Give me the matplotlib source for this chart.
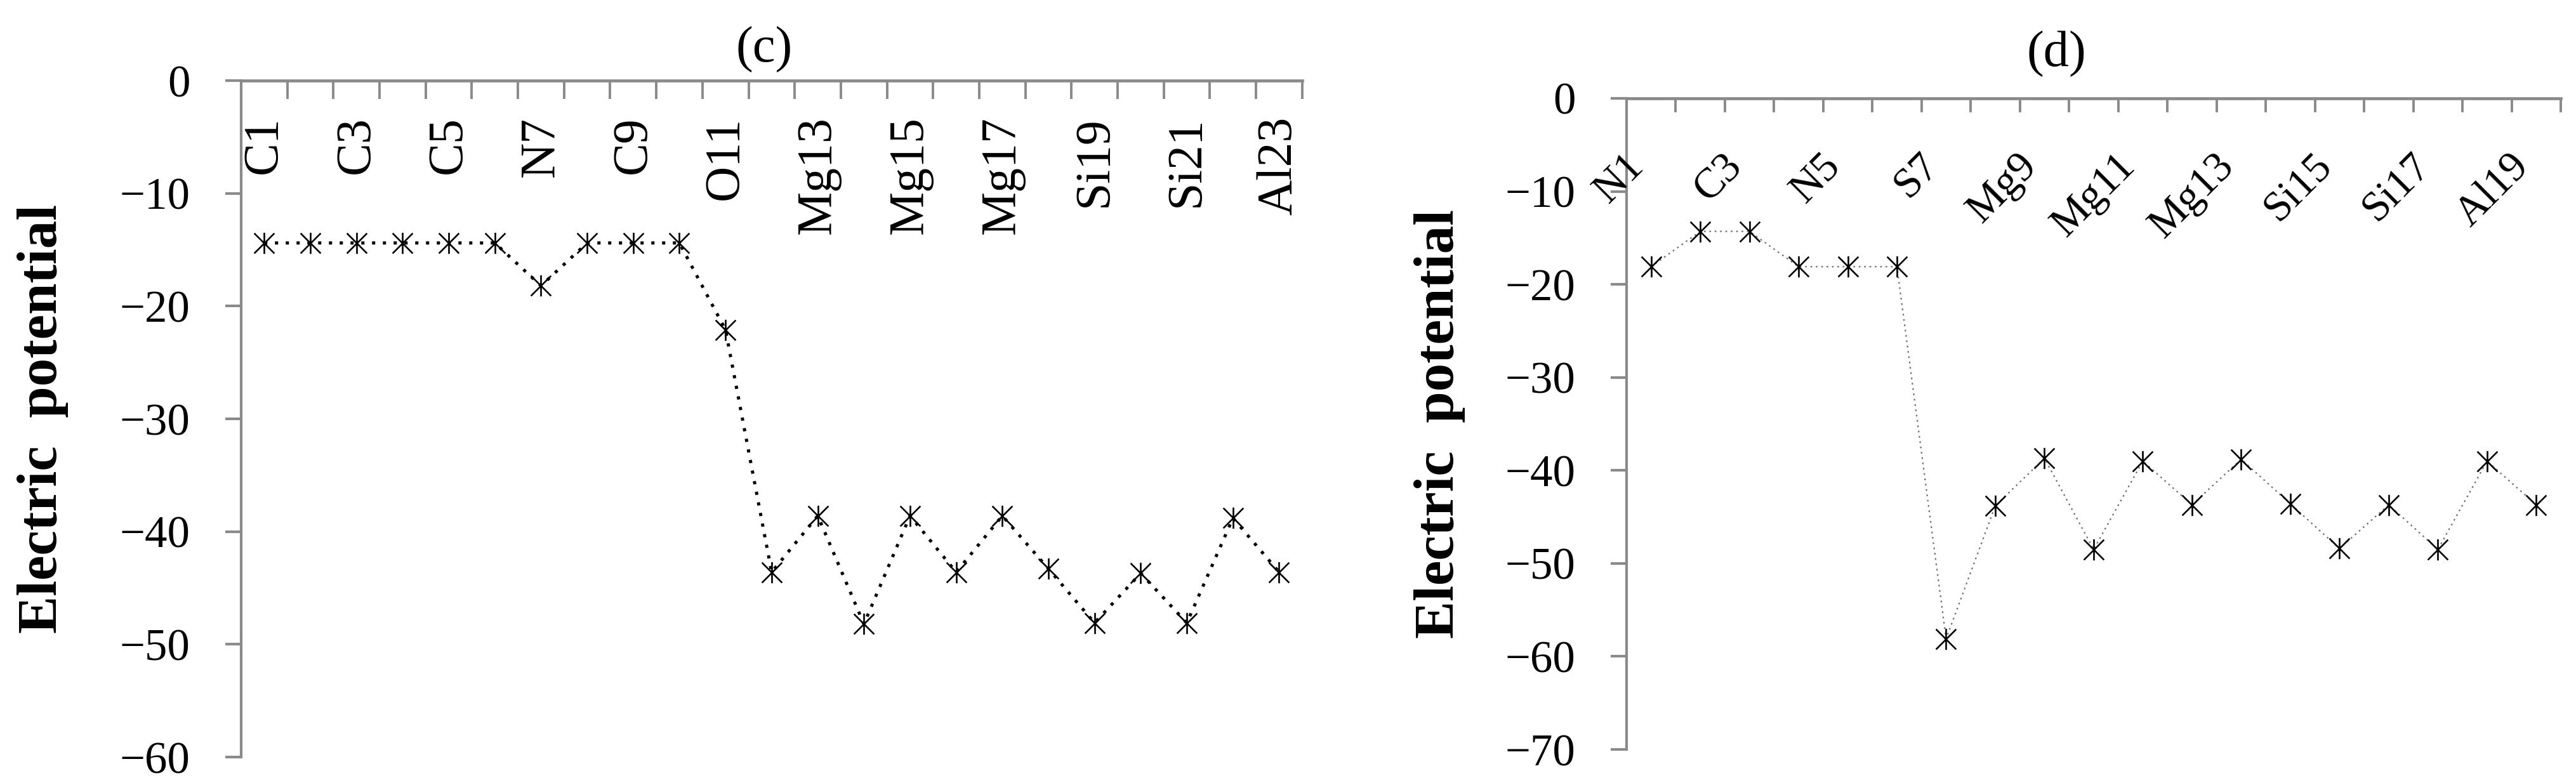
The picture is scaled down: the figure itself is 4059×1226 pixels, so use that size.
import numpy as np
import matplotlib
matplotlib.use('Agg')
import matplotlib.pyplot as plt
from matplotlib.path import Path
from matplotlib.transforms import blended_transform_factory

plt.rcParams['font.family'] = ['Liberation Serif', 'DejaVu Serif']

# panel (c): 23 sites, every second one labelled
labels_c = ['C1', 'C3', 'C5', 'N7', 'C9', 'O11', 'Mg13', 'Mg15', 'Mg17',
            'Si19', 'Si21', 'Al23']
potential_c = [-14.4, -14.4, -14.4, -14.4, -14.4, -14.4, -18.2, -14.4, -14.4,
               -14.4, -22.1, -43.6, -38.6, -48.2, -38.6, -43.6, -38.6, -43.3,
               -48.1, -43.7, -48.1, -38.8, -43.6]
yticks_c = [0, -10, -20, -30, -40, -50, -60]

# panel (d): 19 sites
labels_d = ['N1', 'C3', 'N5', 'S7', 'Mg9', 'Mg11', 'Mg13', 'Si15', 'Si17', 'Al19']
potential_d = [-18.1, -14.3, -14.3, -18.1, -18.1, -18.1, -58.1, -43.8, -38.7,
               -48.5, -39.0, -43.7, -38.8, -43.6, -48.4, -43.7, -48.5, -39.0,
               -43.7]
yticks_d = [0, -10, -20, -30, -40, -50, -60, -70]

GREY = '#8a8a8a'

# asterisk marker: X with a vertical bar
star = Path([(-1, -1), (1, 1), (-1, 1), (1, -1), (0, -1.05), (0, 1.05)],
            [Path.MOVETO, Path.LINETO, Path.MOVETO, Path.LINETO,
             Path.MOVETO, Path.LINETO])


def draw_panel(ax, values, labels, yticks, line_kw, lab_rot, lab_ha, lab_y,
               lab_size, xtick_len):
    x = np.arange(1, len(values) + 1)
    ax.plot(x, values, marker=star, markersize=24, markeredgewidth=1.9,
            markeredgecolor='black', markerfacecolor='none', clip_on=False,
            **line_kw)

    ax.set_xlim(0.5, len(values) + 0.5)
    ax.set_ylim(min(yticks), 0)

    for side in ['bottom', 'right']:
        ax.spines[side].set_visible(False)
    ax.spines['top'].set_color(GREY)
    ax.spines['top'].set_linewidth(3.4)
    ax.spines['left'].set_color(GREY)
    ax.spines['left'].set_linewidth(3.0)

    # category boundary ticks hanging down from the zero line
    ax.xaxis.set_ticks_position('top')
    ax.set_xticks(np.arange(1.5, len(values) + 1))
    ax.tick_params(axis='x', direction='in', length=xtick_len, width=2.8,
                   color=GREY, labeltop=False, labelbottom=False)

    ax.set_yticks(yticks)
    ax.set_yticklabels([str(v).replace('-', '\u2212') for v in yticks])
    ax.tick_params(axis='y', direction='out', length=18, width=3.0,
                   color=GREY, pad=40, labelsize=51)

    trans = blended_transform_factory(ax.transData, ax.transAxes)
    for i, lab in enumerate(labels):
        ax.text(1 + 2 * i, lab_y, lab, transform=trans, rotation=lab_rot,
                ha=lab_ha, va='top', fontsize=lab_size)

    ax.set_ylabel('Electric  potential', fontsize=64, fontweight='bold',
                  va='center')


fig = plt.figure(figsize=(40.59, 12.26), dpi=100)

ax_c = fig.add_axes([0.0936, 0.0269, 0.4119, 0.8695])
draw_panel(ax_c, potential_c, labels_c, yticks_c,
           dict(color='black', linewidth=3.6, linestyle=(0, (1, 2.4))),
           90, 'center', 0.947, 56, 21)
ax_c.yaxis.set_label_coords(-0.187, 0.5)
ax_c.text(0.493, 1.046, '(c)', transform=ax_c.transAxes, ha='center',
          va='center', fontsize=58)

ax_d = fig.add_axes([0.6314, 0.0367, 0.3627, 0.8369])
draw_panel(ax_d, potential_d, labels_d, yticks_d,
           dict(color='#6e6e6e', linewidth=1.6, linestyle=(0, (1.2, 2.6))),
           45, 'right', 0.926, 48, 16)
ax_d.yaxis.set_label_coords(-0.2, 0.5)
ax_d.text(0.46, 1.068, '(d)', transform=ax_d.transAxes, ha='center',
          va='center', fontsize=58)

fig.savefig('out.png', dpi=100)
